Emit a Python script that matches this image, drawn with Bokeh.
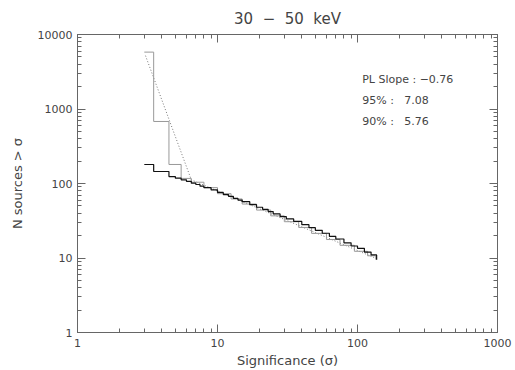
from bokeh.plotting import figure
from bokeh.models import LogAxis, FixedTicker, Label, Range1d, CustomLabelingPolicy
from bokeh.embed import file_html
from bokeh.resources import INLINE

# Fine-step cumulative curve (black)
sig_b = [3.0, 3.5, 4.5, 5.0, 5.5, 6.0, 6.5, 7.0, 7.5, 8.0, 9.0, 10, 11, 12, 13, 14, 15, 17, 19, 21,
         23, 25, 28, 31, 35, 40, 45, 50, 56, 63, 70, 80, 90, 100, 112, 125, 137]
n_b = [180, 145, 124, 118, 112, 107, 101, 97, 92, 88, 82, 76, 71, 67, 63, 60, 57, 52, 48, 45,
       42, 39, 36, 33.5, 31, 28, 25.5, 23.5, 21.5, 19.5, 18, 16, 14.5, 13.5, 12, 11, 9.5]

# Coarse-step cumulative curve (grey)
sig_a = [3.0, 3.5, 4.5, 5.5, 6.5, 8.0, 10, 12.5, 15, 19, 24, 30, 38, 47, 60, 75, 95, 118, 135]
n_a = [5800, 680, 180, 117, 104, 88, 73, 62, 53, 44, 36.8, 30.7, 25.7, 21.4, 17.7, 14.8, 12.3, 10.7, 9.5]

# Fit (dotted)
sig_fit = [3.06, 6.5, 137]
n_fit = [5200, 112, 9.8]

x_ticks = [1, 10, 100, 1000]
y_ticks = [1, 10, 100, 1000, 10000]
x_labels = ["1", "10", "100", "1000"]
y_labels = ["1", "10", "100", "1000", "10000"]

NB = "\u00a0"
title_text = "30" + NB * 2 + "\u2212" + NB * 2 + "50" + NB * 2 + "keV"
notes = ["PL Slope : \u22120.76", "95% :" + NB * 3 + "7.08", "90% :" + NB * 3 + "5.76"]
note_y = [2500, 1300, 670]

FONT = "DejaVu Sans"
TXT = "#444444"
AX = "#666666"

def minor(ticks):
    return [t * k for t in ticks[:-1] for k in range(2, 10)]

p = figure(width=515, height=370, x_axis_type="log", y_axis_type="log",
           x_range=Range1d(1, 1000), y_range=Range1d(1, 10000),
           output_backend="svg", toolbar_location=None,
           min_border_left=77, min_border_right=18, min_border_top=34, min_border_bottom=38)

p.title.text = title_text
p.title.align = "center"
p.title.vertical_align = "top"
p.title.text_font = FONT
p.title.text_font_size = "15px"
p.title.text_font_style = "normal"
p.title.text_color = TXT

p.xgrid.visible = False
p.ygrid.visible = False
p.outline_line_color = AX
p.background_fill_color = "white"
p.border_fill_color = "white"

def style(ax, ticks, labels, show):
    ax.ticker = FixedTicker(ticks=ticks, minor_ticks=minor(ticks))
    ax.major_tick_in = 8
    ax.major_tick_out = 0
    ax.minor_tick_in = 4
    ax.minor_tick_out = 0
    ax.axis_line_color = AX
    ax.major_tick_line_color = AX
    ax.minor_tick_line_color = AX
    ax.major_label_text_font = FONT
    ax.major_label_text_color = TXT
    ax.major_label_text_font_size = "11px"
    ax.axis_label_text_font = FONT
    ax.axis_label_text_color = TXT
    ax.axis_label_text_font_style = "normal"
    ax.axis_label_text_font_size = "13px"
    if show:
        ax.major_label_overrides = {t: l for t, l in zip(ticks, labels)}
    else:
        ax.major_label_overrides = {t: "" for t in ticks}
        ax.major_label_policy = CustomLabelingPolicy(code="return false")
        ax.major_label_standoff = 0

style(p.xaxis[0], x_ticks, x_labels, True)
style(p.yaxis[0], y_ticks, y_labels, True)
p.xaxis[0].axis_label = "Significance (\u03c3)"
p.yaxis[0].axis_label = "N sources > \u03c3"
p.xaxis[0].major_label_standoff = 6
p.yaxis[0].major_label_standoff = 5
p.xaxis[0].axis_label_standoff = 3
p.yaxis[0].axis_label_standoff = 10

top = LogAxis()
right = LogAxis()
style(top, x_ticks, x_labels, False)
style(right, y_ticks, y_labels, False)
p.add_layout(top, "above")
p.add_layout(right, "right")

p.line(sig_fit, n_fit, line_color="#777777", line_width=1, line_dash="1 2")
p.step(sig_a, n_a, mode="after", line_color="#999999", line_width=1)
p.step(sig_b, n_b, mode="after", line_color="#111111", line_width=1.2)

for t, yv in zip(notes, note_y):
    p.add_layout(Label(x=108, y=yv, text=t, text_font=FONT, text_font_size="11px",
                       text_color=TXT, text_baseline="middle"))

open("out.html", "w").write(file_html(p, INLINE))
